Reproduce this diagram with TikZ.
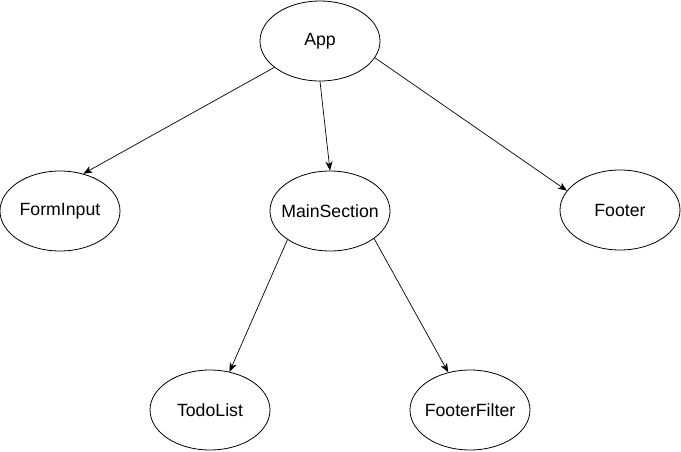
\documentclass[tikz,border=0pt]{standalone}
\usepackage{fontspec}
\setmainfont{Liberation Sans}
\usepackage{tikz}
\usetikzlibrary{shapes.geometric,arrows.meta}
\tikzset{
 cmp node/.style={ellipse,draw=black,line width=.8pt,minimum width=120pt,
                  minimum height=80pt,inner xsep=-15pt,inner ysep=0pt,
                  font=\fontsize{17.7}{20}\selectfont},
 cmp edge/.style={line width=.7pt,-{Stealth[length=9pt,width=7pt,inset=2.5pt]}}
}
\begin{document}
\begin{tikzpicture}[x=1pt,y=-1pt]
 \useasboundingbox (0,0) rectangle (681,451);
 \node[cmp node] (app) at (320,41) {App};
 \node[cmp node] (forminput) at (60,211) {FormInput};
 \node[cmp node] (mainsection) at (330,211) {MainSection};
 \node[cmp node] (footer) at (620,210) {Footer};
 \node[cmp node] (todolist) at (210,410) {TodoList};
 \node[cmp node] (footerfilter) at (470,410) {FooterFilter};

 \draw[cmp edge] (app.210)--(forminput.58);
 \draw[cmp edge] (app.270)--(mainsection.90);
 \draw[cmp edge] (app.-17)--(footer.160);
 \draw[cmp edge] (mainsection.214)--(todolist.63);
 \draw[cmp edge] (mainsection.-32)--(footerfilter.120);
\end{tikzpicture}
\end{document}
